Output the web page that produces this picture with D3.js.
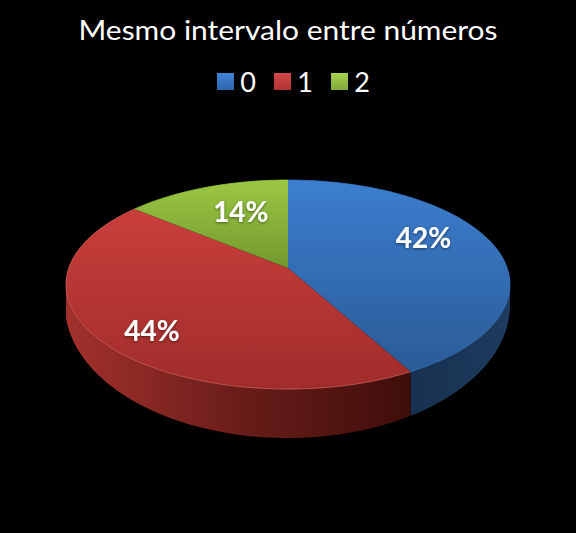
<!DOCTYPE html>
<html>
<head>
<meta charset="utf-8">
<script src="https://cdn.jsdelivr.net/npm/d3@7"></script>
<style>
  html, body { margin: 0; padding: 0; background: #000; }
  svg { display: block; }
  text { font-family: Lato, "Open Sans", sans-serif; fill: #fff; }
</style>
</head>
<body>
<script>
const titleText = "Mesmo intervalo entre números";
const categories = ["0", "1", "2"];
const shares = [42, 44, 14];

const width = 576, height = 533;

// top and bottom of each slice face, then left to right along its wall
const faceColors = [["#3c7ecf", "#2a5b96"], ["#c93f3c", "#a02c2a"], ["#9bc842", "#72992f"]];
const swatchColors = [["#3f84d6", "#2e66aa"], ["#d4474a", "#b03230"], ["#a8d34e", "#80a838"]];
const wallColors = [["#102542", "#16304f", "#1d3b5e"], ["#a3312c", "#6a1d1a", "#3f0e0a"], ["#5f7a25", "#5f7a25", "#5f7a25"]];
const rimColors = ["#3a78c4", "#dc6a62", "#9bc842"];

// tilted disc seen in perspective: the apex is above the centre of the ellipse
const apex = { x: 288, y: 268 };
const rx = 219.2, ry = 101.9, tilt = 0.158;
// lower edge of the wall is a rounder ellipse of its own
const lower = { x: 287.5, y: 305, rx: 222.5, ry: 133 };

function rimPoint(angle, r = 1) {
    const X = r * Math.sin(angle), Y = -r * Math.cos(angle);
    const k = 1 - tilt * Y;
    return [apex.x + rx * X / k, apex.y + ry * Y / k];
}

function lowerPoint(angle) {
    const p = rimPoint(angle);
    if (p[1] < 284) return p; // back of the disc has no visible wall
    const u = (p[0] - lower.x) / lower.rx;
    return [p[0], lower.y + lower.ry * Math.sqrt(Math.max(0, 1 - u * u))];
}

const svg = d3.select("body").append("svg")
    .attr("width", width)
    .attr("height", height);

svg.append("rect").attr("width", width).attr("height", height).attr("fill", "#000");

const defs = svg.append("defs");

function verticalGradient(id, c) {
    const g = defs.append("linearGradient").attr("id", id)
        .attr("x1", 0).attr("y1", 0).attr("x2", 0).attr("y2", 1);
    g.append("stop").attr("offset", 0).attr("stop-color", c[0]);
    g.append("stop").attr("offset", 1).attr("stop-color", c[1]);
}

faceColors.forEach((c, i) => verticalGradient(`face${i}`, c));
swatchColors.forEach((c, i) => verticalGradient(`swatch${i}`, c));

wallColors.forEach((c, i) => {
    const g = defs.append("linearGradient").attr("id", `wall${i}`)
        .attr("x1", 0).attr("y1", 0).attr("x2", 1).attr("y2", 0);
    c.forEach((col, j) => g.append("stop").attr("offset", j / (c.length - 1)).attr("stop-color", col));
});

defs.append("filter").attr("id", "labelShadow")
    .append("feDropShadow")
    .attr("dx", 0).attr("dy", 1).attr("stdDeviation", 1.5)
    .attr("flood-color", "#000").attr("flood-opacity", 0.5);

// Slices
const pie = d3.pie().sort(null)(shares);
const line = d3.line();

function arcAngles(d) {
    const n = Math.ceil((d.endAngle - d.startAngle) * 40);
    return d3.range(n + 1).map(j => d.startAngle + (d.endAngle - d.startAngle) * j / n);
}

// walls first, the top faces paint over their hidden back part
svg.append("g").selectAll("path")
    .data(pie)
    .join("path")
    .attr("d", d => {
        const a = arcAngles(d);
        return line(a.map(t => rimPoint(t)).concat(a.slice().reverse().map(lowerPoint))) + "Z";
    })
    .attr("fill", (d, i) => `url(#wall${i})`);

svg.append("g").selectAll("path")
    .data(pie)
    .join("path")
    .attr("d", d => line([[apex.x, apex.y]].concat(arcAngles(d).map(t => rimPoint(t)))) + "Z")
    .attr("fill", (d, i) => `url(#face${i})`);

// thin light edge along the front of the disc
svg.append("g").selectAll("path")
    .data(pie)
    .join("path")
    .attr("d", d => line(arcAngles(d).map(t => rimPoint(t))))
    .attr("fill", "none")
    .attr("stroke", (d, i) => rimColors[i])
    .attr("stroke-width", 1)
    .attr("opacity", 0.7);

// Percent labels
const labelRadius = [0.65, 0.75, 0.62];
const labelNudge = [[1, -14], [1, 10], [6, -3]];

svg.append("g").selectAll("text")
    .data(pie)
    .join("text")
    .attr("transform", (d, i) => {
        const p = rimPoint((d.startAngle + d.endAngle) / 2, labelRadius[i]);
        return `translate(${p[0] + labelNudge[i][0]},${p[1] + labelNudge[i][1]})`;
    })
    .attr("text-anchor", "middle")
    .attr("dy", "0.35em")
    .attr("font-size", 28)
    .attr("font-weight", 700)
    .attr("filter", "url(#labelShadow)")
    .text((d, i) => `${shares[i]}%`);

// Title
svg.append("text")
    .attr("x", 288)
    .attr("y", 40)
    .attr("text-anchor", "middle")
    .attr("font-size", 27)
    .attr("textLength", 419)
    .attr("lengthAdjust", "spacingAndGlyphs")
    .text(titleText);

// Legend
const legendX = d3.scalePoint().domain(categories).range([217, 331]);
const legend = svg.append("g").selectAll("g")
    .data(categories)
    .join("g")
    .attr("transform", d => `translate(${legendX(d)},73)`);

legend.append("rect")
    .attr("width", 17)
    .attr("height", 17)
    .attr("fill", (d, i) => `url(#swatch${i})`);

legend.append("text")
    .attr("x", 31)
    .attr("y", 18.5)
    .attr("text-anchor", "middle")
    .attr("font-size", 27)
    .text(d => d);
</script>
</body>
</html>
